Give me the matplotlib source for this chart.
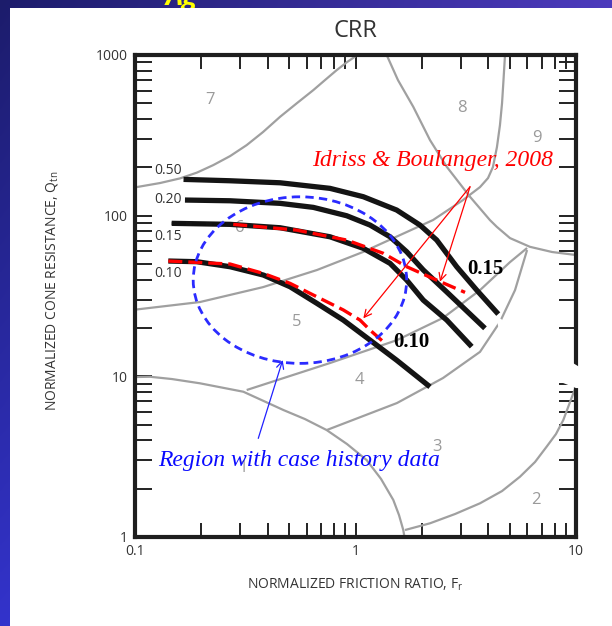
import numpy as np
import matplotlib
matplotlib.use('Agg')
import matplotlib.pyplot as plt
from matplotlib.patches import Polygon, Rectangle, Ellipse
from matplotlib.ticker import FixedLocator, FixedFormatter, NullFormatter

plt.rcParams['font.family'] = ['Open Sans', 'DejaVu Sans']

# ---------------- data ----------------
# CRR curves (black)
crr050_x = [0.166, 0.270, 0.455, 0.766, 1.085, 1.537, 1.96, 2.335, 2.877, 3.546, 4.44]
crr050_y = [168.2, 164.9, 160.2, 147.9, 131.2, 108.4, 87.4, 70.5, 48.1, 34.4, 24.4]
crr020_x = [0.1685, 0.270, 0.455, 0.644, 0.912, 1.164, 1.434, 1.707, 2.03, 2.593, 3.865]
crr020_y = [125.1, 123.8, 119.3, 112.6, 99.9, 87.4, 73.9, 59.6, 45.9, 33.5, 19.9]
crr015_x = [0.1467, 0.270, 0.455, 0.766, 1.085, 1.434, 1.707, 2.03, 2.593, 3.365]
crr015_y = [89.6, 88.3, 84.1, 73.9, 62.6, 50.5, 39.7, 29.8, 22.4, 15.3]
crr010_x = [0.1416, 0.1905, 0.270, 0.382, 0.505, 0.667, 0.880, 1.164, 1.537, 2.177]
crr010_y = [52.2, 51.7, 48.1, 42.7, 36.1, 28.5, 22.4, 16.8, 12.6, 8.6]
crr_labels = ['0.50', '0.20', '0.15', '0.10']
crr_label_y = [192.2, 126.3, 74.7, 43.7]

# Idriss & Boulanger 2008 (red dashed)
ib015_x = [0.1467, 0.279, 0.541, 0.912, 1.337, 1.707, 2.335, 3.139]
ib015_y = [89.6, 88.3, 81.3, 70.5, 58.3, 48.1, 39.7, 33.3]
ib010_x = [0.1416, 0.270, 0.382, 0.505, 0.667, 0.880, 1.048, 1.164, 1.337]
ib010_y = [52.2, 50.0, 43.7, 37.9, 31.3, 25.9, 22.4, 19.4, 16.4]

# soil behaviour type zone boundaries (grey)
zoneA_x = [0.1, 0.1298, 0.160, 0.191, 0.2266, 0.270, 0.321, 0.3805, 0.455, 0.543,
           0.644, 0.727, 0.822, 0.915, 1.02]
zoneA_y = [150, 159.6, 170.6, 185.4, 206.5, 234.9, 274.9, 331.3, 412.5, 502,
           604.9, 698, 805.5, 903, 1000]
zoneB_x = [0.1, 0.197, 0.3805, 0.669, 1.081, 1.591, 2.246, 3.073, 3.67, 3.99, 4.20,
           4.38, 4.52, 4.62, 4.69, 4.765]
zoneB_y = [26.0, 29.0, 35.9, 45.9, 59.4, 75.7, 93.9, 125.1, 150.6, 171.4, 200.7,
           267.3, 366, 502, 698, 1000]
zone8_x = [1.385, 1.558, 1.828, 2.177, 2.593, 3.306, 4.07, 4.37, 5.02, 6.18, 7.79, 10.0]
zone8_y = [1000, 698, 476, 295.4, 201.5, 131.1, 93.9, 85.3, 72.5, 64.0, 59.4, 56.9]
zoneC_x = [0.321, 0.766, 1.542, 2.494, 3.67, 5.02, 6.00]
zoneC_y = [8.22, 12.1, 16.8, 23.1, 34.4, 51.4, 62.9]
zoneD_x = [0.740, 1.542, 2.494, 3.67, 4.52, 5.29, 6.00]
zoneD_y = [4.63, 6.82, 9.76, 14.2, 21.8, 34.4, 61.1]
zone1_x = [0.1, 0.117, 0.147, 0.197, 0.31, 0.471, 0.590, 0.740, 0.915, 1.124, 1.305,
           1.484, 1.575, 1.647, 1.667]
zone1_y = [9.9, 9.94, 9.62, 9.05, 8.02, 6.17, 5.42, 4.63, 3.79, 3.01, 2.30,
           1.70, 1.37, 1.105, 1.0]
zone2_x = [1.677, 2.177, 2.827, 3.67, 4.62, 5.57, 6.52, 7.36, 8.11, 8.76, 9.72, 10.0]
zone2_y = [1.105, 1.217, 1.39, 1.621, 1.932, 2.372, 2.93, 3.65, 4.37, 5.35, 7.84, 8.6]
zone_names = ['7', '8', '9', '6', '5', '4', '3', '1', '2']
zone_x = [0.219, 3.03, 6.67, 0.299, 0.541, 1.04, 2.335, 0.308, 6.59]
zone_y = [524, 465, 303, 83.4, 21.9, 9.48, 3.65, 2.68, 1.70]

x_major = [0.1, 1, 10]
x_major_labels = ['0.1', '1', '10']
x_minor = [0.2, 0.3, 0.4, 0.5, 0.6, 0.7, 0.8, 0.9, 2, 3, 4, 5, 6, 7, 8, 9]
y_major = [1, 10, 100, 1000]
y_major_labels = ['1', '10', '100', '1000']
y_minor = [2, 3, 4, 5, 6, 7, 8, 9, 20, 30, 40, 50, 60, 70, 80, 90,
           200, 300, 400, 500, 600, 700, 800, 900]

# ---------------- figure ----------------
W, H = 612, 626
fig = plt.figure(figsize=(W / 100, H / 100), dpi=100)

bg = fig.add_axes([0, 0, 1, 1], zorder=0)
bg.set_xlim(0, W)
bg.set_ylim(H, 0)
bg.axis('off')
yy, xx = np.mgrid[0:H:2, 0:W:2]
u = (xx / W)[..., None]
v = (yy / H)[..., None]
c00 = np.array([0.11, 0.11, 0.42])
c10 = np.array([0.30, 0.23, 0.74])
c01 = np.array([0.20, 0.20, 0.80])
c11 = np.array([0.30, 0.30, 0.85])
img = c00 * (1 - u) * (1 - v) + c10 * u * (1 - v) + c01 * (1 - u) * v + c11 * u * v
bg.imshow(img, extent=[0, W, H, 0], aspect='auto', interpolation='bilinear')
bg.text(166, 5, 'Ag', color='#ffff00', fontsize=20, fontweight='bold',
        style='italic', va='baseline', ha='left')
bg.add_patch(Rectangle((10, 8), W - 10, H - 8, facecolor='white', edgecolor='none', zorder=3))

ax = fig.add_axes([135 / W, 1 - 537 / H, 441 / W, 482 / H], zorder=2)
ax.set_xscale('log')
ax.set_yscale('log')
ax.set_xlim(0.1, 10)
ax.set_ylim(1, 1000)

grey = '#a0a0a0'
for gx, gy in [(zoneA_x, zoneA_y), (zoneB_x, zoneB_y), (zone8_x, zone8_y),
               (zoneC_x, zoneC_y), (zoneD_x, zoneD_y), (zone1_x, zone1_y),
               (zone2_x, zone2_y)]:
    ax.plot(gx, gy, color=grey, lw=1.6, zorder=2, solid_capstyle='butt',
            solid_joinstyle='round')

for name, zx, zy in zip(zone_names, zone_x, zone_y):
    ax.text(zx, zy, name, color='#9a9a9a', fontsize=12, ha='center', va='center', zorder=2)

# white patch (cut-off area of original figure)
mask = Polygon([(0.8186, 0.4585), (1.0227, 0.3444), (1.0227, 0.3090), (1.0, 0.3090),
                (0.8957, 0.3465), (0.8277, 0.4191)], closed=True, transform=ax.transAxes,
               facecolor='white', edgecolor='none', zorder=2.7, clip_on=False)
ax.add_patch(mask)

for cx, cy in [(crr050_x, crr050_y), (crr020_x, crr020_y), (crr015_x, crr015_y), (crr010_x, crr010_y)]:
    ax.plot(cx, cy, color='#141414', lw=3.8, zorder=5, solid_capstyle='butt', solid_joinstyle='round')

for lab, ly in zip(crr_labels, crr_label_y):
    ax.text(0.141, ly, lab, color='#333333', fontsize=10, ha='center', va='center', zorder=6)

# red dashed lines
ax.plot(ib015_x[:2], ib015_y[:2], color='#111111', lw=2.4, ls=(0, (4.2, 1.8)), zorder=6)
ax.plot(ib015_x[1:], ib015_y[1:], color='#ff0000', lw=2.4, ls=(0, (4.2, 1.8)), zorder=6)
ax.plot(ib010_x, ib010_y, color='#ff0000', lw=2.4, ls=(0, (4.2, 1.8)), zorder=6)

# blue dashed ellipse (region with case history data)
ell = Ellipse((0.374, 0.533), 0.484, 0.3456, transform=ax.transAxes, fill=False,
              edgecolor='#2b2bff', lw=2.0, ls=(0, (3.0, 1.9)), zorder=7)
ax.add_patch(ell)

serif = ['Liberation Serif', 'DejaVu Serif']
ax.text(2.234, 222, 'Idriss & Boulanger, 2008', color='#ff0000', fontsize=17,
        style='italic', family=serif, ha='center', va='center', zorder=8)
ax.text(3.865, 46.5, '0.15', color='black', fontsize=15, fontweight='bold',
        family=serif, ha='center', va='center', zorder=8)
ax.text(1.798, 16.4, '0.10', color='black', fontsize=15, fontweight='bold',
        family=serif, ha='center', va='center', zorder=8)
ax.text(0.555, 2.99, 'Region with case history data', color='#0a0aff', fontsize=17,
        style='italic', family=serif, ha='center', va='center', zorder=8)

arrow_red = dict(arrowstyle='->', color='#ff0000', lw=0.9, shrinkA=0, shrinkB=0, mutation_scale=13)
ax.annotate('', xy=(1.085, 22.96), xytext=(3.306, 151.3), arrowprops=arrow_red, zorder=8)
ax.annotate('', xy=(2.416, 38.8), xytext=(3.306, 151.3), arrowprops=arrow_red, zorder=8)
ax.annotate('', xy=(0.4675, 12.63), xytext=(0.3623, 4.11),
            arrowprops=dict(arrowstyle='->', color='#2020ff', lw=0.9, shrinkA=0, shrinkB=0,
                            mutation_scale=13), zorder=8)

# axes styling
for s in ax.spines.values():
    s.set_linewidth(3.0)
    s.set_color('#1e1e1e')
ax.xaxis.set_major_locator(FixedLocator(x_major))
ax.xaxis.set_major_formatter(FixedFormatter(x_major_labels))
ax.xaxis.set_minor_locator(FixedLocator(x_minor))
ax.xaxis.set_minor_formatter(NullFormatter())
ax.yaxis.set_major_locator(FixedLocator(y_major))
ax.yaxis.set_major_formatter(FixedFormatter(y_major_labels))
ax.yaxis.set_minor_locator(FixedLocator(y_minor))
ax.yaxis.set_minor_formatter(NullFormatter())
ax.tick_params(axis='both', which='both', direction='in', top=True, right=True,
               width=1.4, color='#222222', labelcolor='#333333', labelsize=10, pad=5)
ax.tick_params(axis='y', which='both', length=12)
ax.tick_params(axis='x', which='both', length=10)

ax.set_xlabel(r'NORMALIZED FRICTION RATIO, F$_\mathregular{r}$', fontsize=10, color='#333333')
ax.xaxis.set_label_coords(0.5, -0.083)
ax.set_ylabel(r'NORMALIZED CONE RESISTANCE, Q$_\mathregular{tn}$', fontsize=10, color='#333333')
ax.yaxis.set_label_coords(-0.170, 0.51)
ax.set_title('CRR', fontsize=17, color='#333333', pad=13)

fig.savefig('out.png', dpi=100)
